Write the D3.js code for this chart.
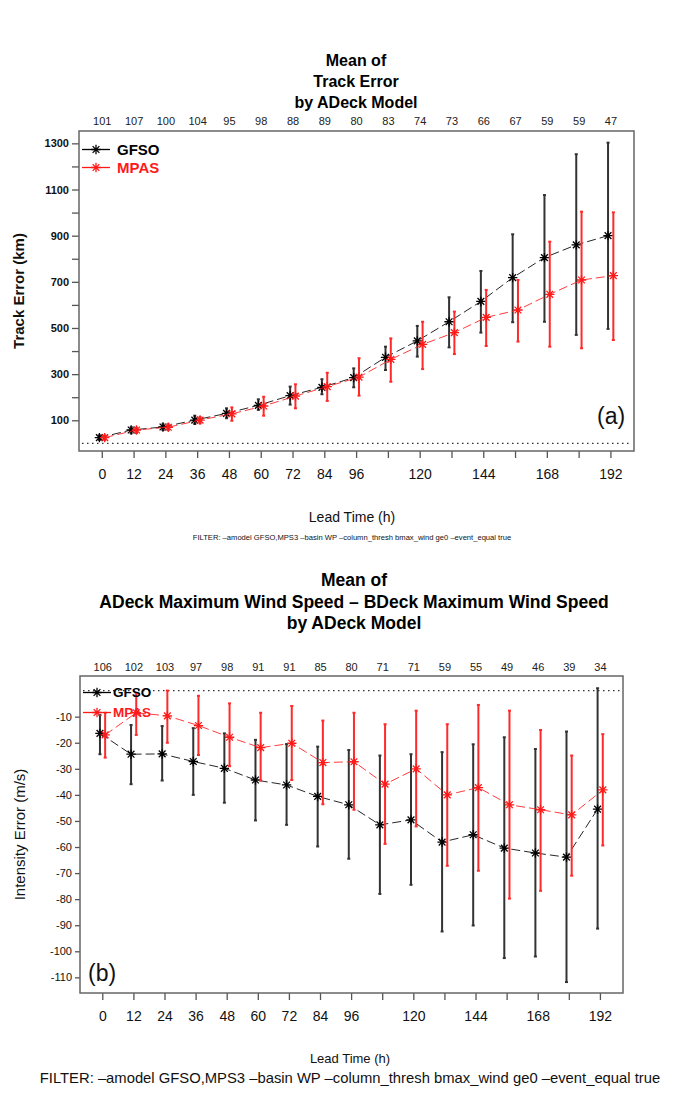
<!DOCTYPE html>
<html><head><meta charset="utf-8">
<script src="https://cdn.jsdelivr.net/npm/d3@7"></script>
<style>
html,body{margin:0;padding:0;background:#fff;}
svg{display:block;font-family:"Liberation Sans",Arial,Helvetica,sans-serif;}
</style></head>
<body>
<svg id="chart" width="679" height="1093"></svg>
<script>
// ---------- data ----------
const leadTimes = [0,12,24,36,48,60,72,84,96,108,120,132,144,156,168,180,192];
const xTickLabels = ["0","12","24","36","48","60","72","84","96","","120","","144","","168","","192"];
const seriesNames = ["GFSO","MPAS"];

// Panel (a): track error (km)
const trackCounts = [101,107,100,104,95,98,88,89,80,83,74,73,66,67,59,59,47];
const gfsoTrack   = [25,58,71,101,130,165,207,243,285,373,444,527,615,718,805,860,900];
const gfsoTrackLo = [15,44,58,84,109,145,168,213,243,318,376,416,480,525,527,470,496];
const gfsoTrackHi = [35,70,83,120,152,191,246,278,325,419,509,633,747,906,1076,1253,1303];
const mpasTrack   = [25,58,70,101,128,162,205,246,287,364,429,480,546,578,646,708,727];
const mpasTrackLo = [15,45,58,87,98,120,152,184,207,267,322,387,422,441,419,412,448];
const mpasTrackHi = [35,68,83,114,156,202,256,306,369,455,527,571,665,708,874,1004,1001];
const trackTicks = [100,200,300,400,500,600,700,800,900,1000,1100,1200,1300];
const trackTickLabels = ["100","","300","","500","","700","","900","","1100","","1300"];

// Panel (b): intensity error (m/s)
const intCounts = [106,102,103,97,98,91,91,85,80,71,71,59,55,49,46,39,34];
const gfsoInt   = [-16.4,-24.4,-24.3,-27.2,-29.8,-34.3,-36.2,-40.6,-43.8,-51.5,-49.6,-58.1,-55.3,-60.4,-62.3,-63.9,-45.5];
const gfsoIntLo = [-24.4,-35.9,-34.5,-40,-43,-49.8,-51.5,-59.8,-64.5,-78,-74.5,-92.4,-90.1,-102.6,-102,-111.8,-91.3];
const gfsoIntHi = [-9.4,-13.2,-13.6,-14.4,-16.4,-18.9,-20.5,-21.5,-22.8,-24.9,-24.4,-23.6,-20.6,-17.9,-22.4,-15.7,0.9];
const mpasInt   = [-17,-8.5,-9.7,-13.4,-17.9,-21.9,-20.2,-27.6,-27.3,-35.9,-30,-40,-37.2,-43.8,-45.7,-47.7,-38.1];
const mpasIntLo = [-25.7,-17,-20,-24.7,-29,-34.5,-34.3,-43.6,-45.7,-58.8,-52.1,-67.2,-69.1,-79.8,-76.8,-71,-59.4];
const mpasIntHi = [-8.5,-1,0,-2,-4.9,-8.5,-5.9,-11.5,-8.5,-12.9,-7.7,-12.9,-5.5,-7.7,-15.1,-24.9,-16.7];
const intTicks = [-10,-20,-30,-40,-50,-60,-70,-80,-90,-100,-110];
const intTickLabels = ["-10","-20","-30","-40","-50","-60","-70","-80","-90","-100","-110"];

const filterText = "FILTER: \u2013amodel GFSO,MPS3 \u2013basin WP \u2013column_thresh bmax_wind ge0 \u2013event_equal true";

// ---------- drawing ----------
const svg = d3.select("#chart");
const colors = {GFSO:"#000000", MPAS:"#ff1a1a"};
const barColors = {GFSO:"#333333", MPAS:"#ff2a2a"};
const xOffset = {GFSO:-0.9, MPAS:1.1};

function starPath(r){
  const d = r*0.72;
  return `M0,${-r}V${r}M${-r},0H${r}M${-d},${-d}L${d},${d}M${-d},${d}L${d},${-d}`;
}

function drawPanel(cfg){
  const g = svg.append("g");
  const x = d3.scaleLinear().domain([-8.6,200.9]).range([cfg.left,cfg.right]);
  const y = d3.scaleLinear().domain(cfg.yDomain).range([cfg.bottom,cfg.top]);

  // titles
  cfg.titles.forEach((t,i)=>{
    g.append("text").attr("x",cfg.titleX).attr("y",cfg.titleY + i*cfg.titleStep)
      .attr("text-anchor","middle").attr("dominant-baseline","central")
      .attr("font-weight","bold").attr("font-size",cfg.titleSize).text(t);
  });

  // x axis below
  const xAxis = d3.axisBottom(x).tickValues(leadTimes).tickSize(7).tickPadding(cfg.xPad)
     .tickFormat((d,i)=>xTickLabels[i]);
  const xa = g.append("g").attr("transform",`translate(0,${cfg.bottom})`).call(xAxis);
  xa.select(".domain").remove();
  xa.selectAll("line").attr("stroke","#555").attr("stroke-width",1.3);
  xa.selectAll("text").attr("font-size",cfg.xFont).attr("fill","#111").attr("font-family",null);

  // top counts
  const xt = d3.axisTop(x).tickValues(leadTimes).tickSize(0).tickPadding(cfg.countPad)
     .tickFormat((d,i)=>String(cfg.counts[i]));
  const ca = g.append("g").attr("transform",`translate(0,${cfg.top})`).call(xt);
  ca.select(".domain").remove();
  ca.selectAll("text").attr("font-size",11).attr("fill","#222").attr("font-family",null);

  // y axis
  const yAxis = d3.axisLeft(y).tickValues(cfg.yTicks).tickSize(cfg.yTickLen).tickPadding(3)
     .tickFormat((d,i)=>cfg.yTickLabels[i]);
  const ya = g.append("g").attr("transform",`translate(${cfg.left},0)`).call(yAxis);
  ya.select(".domain").remove();
  ya.selectAll("line").attr("stroke","#555").attr("stroke-width",1.3);
  ya.selectAll("text").attr("font-size",11).attr("fill","#111").attr("font-family",null)
     .attr("font-weight",cfg.yBold?"bold":"normal");

  // box
  g.append("rect").attr("x",cfg.left).attr("y",cfg.top)
    .attr("width",cfg.right-cfg.left).attr("height",cfg.bottom-cfg.top)
    .attr("fill","none").attr("stroke","#666").attr("stroke-width",1.5);

  // zero dotted line
  g.append("line").attr("x1",cfg.left+3).attr("x2",cfg.right-3)
    .attr("y1",y(0)).attr("y2",y(0))
    .attr("stroke","#333").attr("stroke-width",1.2).attr("stroke-dasharray","1.5,3.5");

  // series
  cfg.series.forEach(s=>{
    const pts = leadTimes.map((t,i)=>({t:t+xOffset[s.name], v:s.mean[i], lo:s.lo[i], hi:s.hi[i]}));
    const sg = g.append("g");
    // error bars
    sg.selectAll("line.bar").data(pts).enter().append("line")
      .attr("x1",d=>x(d.t)).attr("x2",d=>x(d.t))
      .attr("y1",d=>y(d.lo)).attr("y2",d=>y(d.hi))
      .attr("stroke",barColors[s.name]).attr("stroke-width",2);
    sg.selectAll("line.caplo").data(pts).enter().append("line")
      .attr("x1",d=>x(d.t)-1.5).attr("x2",d=>x(d.t)+1.5)
      .attr("y1",d=>y(d.lo)).attr("y2",d=>y(d.lo))
      .attr("stroke",barColors[s.name]).attr("stroke-width",2);
    sg.selectAll("line.caphi").data(pts).enter().append("line")
      .attr("x1",d=>x(d.t)-1.5).attr("x2",d=>x(d.t)+1.5)
      .attr("y1",d=>y(d.hi)).attr("y2",d=>y(d.hi))
      .attr("stroke",barColors[s.name]).attr("stroke-width",2);
    // line
    sg.append("path").datum(pts)
      .attr("d",d3.line().x(d=>x(d.t)).y(d=>y(d.v)))
      .attr("fill","none").attr("stroke",colors[s.name]).attr("stroke-width",1)
      .attr("stroke-dasharray","9,4").attr("opacity",0.85);
    // markers
    sg.selectAll("path.m").data(pts).enter().append("path")
      .attr("transform",d=>`translate(${x(d.t)},${y(d.v)})`)
      .attr("d",starPath(4.7)).attr("fill","none")
      .attr("stroke",colors[s.name]).attr("stroke-width",1.3);
  });

  // legend
  cfg.series.forEach((s,i)=>{
    const ly = cfg.legY + i*cfg.legStep;
    g.append("line").attr("x1",cfg.left+3).attr("x2",cfg.left+31).attr("y1",ly).attr("y2",ly)
      .attr("stroke",colors[s.name]).attr("stroke-width",1.3);
    g.append("path").attr("transform",`translate(${cfg.left+17},${ly})`)
      .attr("d",starPath(4.7)).attr("fill","none").attr("stroke",colors[s.name]).attr("stroke-width",1.3);
    g.append("text").attr("x",cfg.left+cfg.legTextDx).attr("y",ly).attr("dominant-baseline","central")
      .attr("font-weight","bold").attr("font-size",cfg.legFont).attr("fill",colors[s.name]).text(s.name);
  });

  // panel label
  g.append("text").attr("x",cfg.panelX).attr("y",cfg.panelY).attr("dominant-baseline","central")
    .attr("font-size",23).attr("fill","#111").text(cfg.panelLabel);

  // y label
  g.append("text").attr("transform",`translate(${cfg.yLabelX},${(cfg.top+cfg.bottom)/2}) rotate(-90)`)
    .attr("text-anchor","middle").attr("dominant-baseline","central")
    .attr("font-size",15).attr("font-weight",cfg.yBold?"bold":"normal").attr("fill","#111").text(cfg.yLabel);

  // x label + filter
  g.append("text").attr("x",cfg.xLabelX).attr("y",cfg.xLabelY).attr("text-anchor","middle")
    .attr("dominant-baseline","central").attr("font-size",cfg.xLabelSize).attr("fill","#111").text("Lead Time (h)");
  g.append("text").attr("x",cfg.xLabelX).attr("y",cfg.filterY).attr("text-anchor","middle")
    .attr("dominant-baseline","central").attr("font-size",cfg.filterSize).attr("fill","#111").text(filterText);
}

drawPanel({
  left:79, right:634, top:131, bottom:451, yDomain:[-33,1353.5],
  titles:["Mean of","Track Error","by ADeck Model"], titleX:356, titleY:60, titleStep:21, titleSize:16,
  counts:trackCounts, countPad:6, xPad:11, xFont:14,
  yTicks:trackTicks, yTickLabels:trackTickLabels, yTickLen:7, yBold:true,
  series:[{name:"GFSO",mean:gfsoTrack,lo:gfsoTrackLo,hi:gfsoTrackHi},
          {name:"MPAS",mean:mpasTrack,lo:mpasTrackLo,hi:mpasTrackHi}],
  legY:149.5, legStep:18, legFont:15, legTextDx:38,
  panelLabel:"(a)", panelX:597, panelY:416,
  yLabel:"Track Error (km)", yLabelX:18,
  xLabelX:352, xLabelY:517, xLabelSize:14, filterY:537, filterSize:7.6
});

drawPanel({
  left:80, right:623, top:676, bottom:993, yDomain:[-116,5.6],
  titles:["Mean of","ADeck Maximum Wind Speed \u2013 BDeck Maximum Wind Speed","by ADeck Model"],
  titleX:354, titleY:580, titleStep:21.5, titleSize:17.5,
  counts:intCounts, countPad:5, xPad:11, xFont:14,
  yTicks:intTicks, yTickLabels:intTickLabels, yTickLen:5, yBold:false,
  series:[{name:"GFSO",mean:gfsoInt,lo:gfsoIntLo,hi:gfsoIntHi},
          {name:"MPAS",mean:mpasInt,lo:mpasIntLo,hi:mpasIntHi}],
  legY:692.5, legStep:20, legFont:13.5, legTextDx:33,
  panelLabel:"(b)", panelX:88, panelY:973,
  yLabel:"Intensity Error (m/s)", yLabelX:19,
  xLabelX:350, xLabelY:1058, xLabelSize:13, filterY:1078, filterSize:14.8
});
</script>
</body></html>
